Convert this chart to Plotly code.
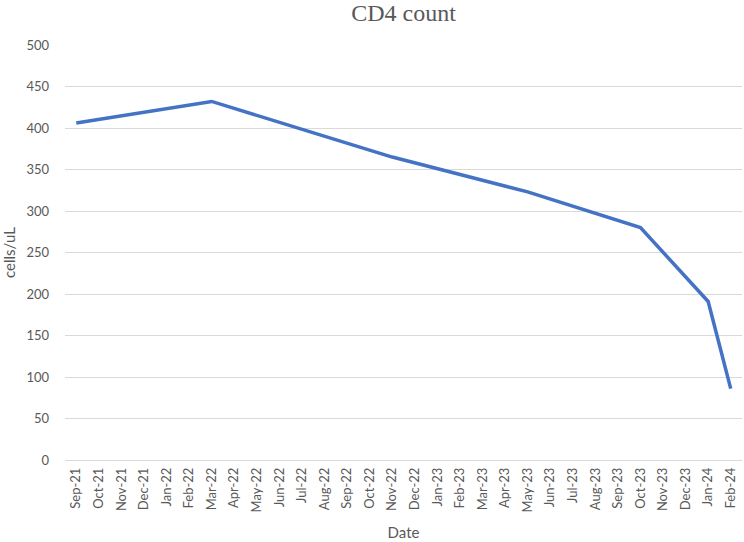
import plotly.graph_objects as go

months = ["Sep-21", "Oct-21", "Nov-21", "Dec-21", "Jan-22", "Feb-22", "Mar-22", "Apr-22",
          "May-22", "Jun-22", "Jul-22", "Aug-22", "Sep-22", "Oct-22", "Nov-22", "Dec-22",
          "Jan-23", "Feb-23", "Mar-23", "Apr-23", "May-23", "Jun-23", "Jul-23", "Aug-23",
          "Sep-23", "Oct-23", "Nov-23", "Dec-23", "Jan-24", "Feb-24"]

# measured dates and CD4 values
meas_dates = ["Sep-21", "Mar-22", "Nov-22", "May-23", "Oct-23", "Jan-24", "Feb-24"]
meas_values = [406, 432, 365, 323, 280, 191, 86]

y_ticks = [0, 50, 100, 150, 200, 250, 300, 350, 400, 450, 500]

vals = dict(zip(meas_dates, meas_values))
series = [vals.get(m) for m in months]

fig = go.Figure()
fig.add_trace(go.Scatter(
    x=months, y=series, mode="lines", connectgaps=True,
    line=dict(color="#4472C4", width=3.5),
    showlegend=False,
))

font_main = "Lato, Open Sans, sans-serif"
grey = "#595959"

W, H = 744, 542
fig.update_layout(
    width=W, height=H,
    margin=dict(l=62, r=2, t=45, b=82),
    paper_bgcolor="white", plot_bgcolor="white",
    title=dict(text="CD4 count", x=0.5, xref="paper", y=1 - 13 / H, yanchor="middle",
               font=dict(family="Liberation Serif, Times New Roman, serif", size=24, color=grey)),
    font=dict(family=font_main, color=grey, size=13),
    xaxis=dict(
        type="category", categoryorder="array", categoryarray=months,
        range=[-0.5, len(months) - 0.5],
        tickangle=-90, tickfont=dict(size=13, color=grey),
        showgrid=False, showline=False, ticks="",
        title=dict(text="Date", font=dict(size=15, color=grey), standoff=16),
        ticklabelstandoff=4,
    ),
    yaxis=dict(
        range=[0, 500], tickvals=y_ticks,
        showgrid=True, gridcolor="#D9D9D9", gridwidth=1,
        zeroline=True, zerolinecolor="#D9D9D9", zerolinewidth=1,
        tickfont=dict(size=13, color=grey), ticks="",
        title=dict(text="cells/uL", font=dict(size=15, color=grey), standoff=14),
        ticklabelstandoff=15,
    ),
)

fig.write_html("out.html", config={"displayModeBar": False},
               post_script="document.body.style.margin='0';document.body.style.overflow='hidden';")
